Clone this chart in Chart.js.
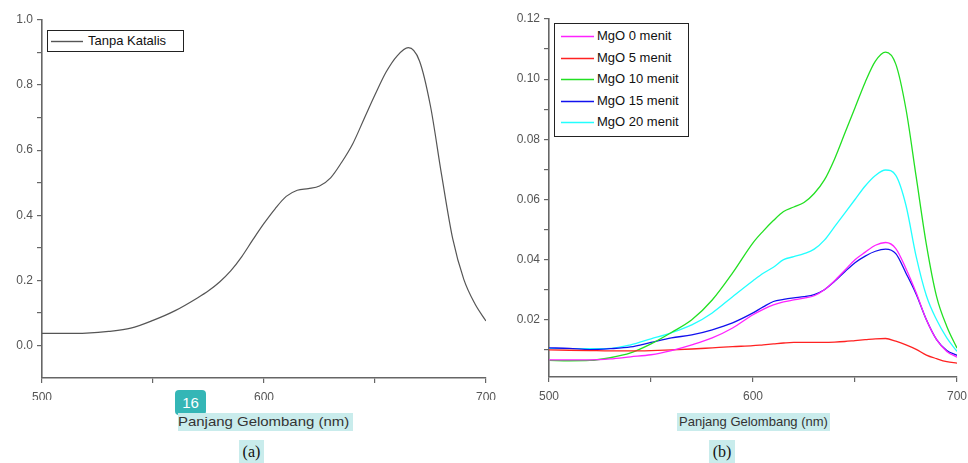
<!DOCTYPE html>
<html>
<head>
<meta charset="utf-8">
<script src="https://cdn.jsdelivr.net/npm/chart.js@4.4.0/dist/chart.umd.min.js"></script>
<style>
  body { margin: 0; background: #fff; }
  #page { position: relative; width: 968px; height: 463px; overflow: hidden; font-family: 'Liberation Sans', Arial, sans-serif; }
  .box { position: absolute; }
  .legend { position: absolute; border: 1px solid #222; background: #fff; }
  .legend .row { position: absolute; left: 0; right: 0; height: 21px; }
  .legend svg { position: absolute; top: 9px; }
  .legend .label { position: absolute; top: 2px; font-size: 13px; color: #111; white-space: nowrap; }
  .xtitle { position: absolute; height: 18px; line-height: 18px; background: #c9ecec; color: #333; font-size: 13px; white-space: nowrap; }
  .caption { position: absolute; height: 23px; line-height: 23px; background: #c9ecec; font-family: 'Liberation Serif', 'DejaVu Serif', serif; font-size: 16px; color: #111; text-align: center; }
  .badge { position: absolute; left: 175px; top: 390px; width: 31px; height: 25px; line-height: 25px; background: #34b6b6; color: #fff; border-radius: 4px; font-size: 15px; text-align: center; }
</style>
</head>
<body>
<div id="page">
  <div class="box" style="left:0;top:0;width:500px;height:400px"><canvas id="chartA"></canvas></div>
  <div class="box" style="left:500px;top:0;width:468px;height:400px"><canvas id="chartB"></canvas></div>
  <div id="legendA" class="legend" style="left:47px;top:30px;width:135px;height:20px"></div>
  <div id="legendB" class="legend" style="left:554px;top:23px;width:133px;height:112px"></div>
  <div class="badge">16</div>
  <div class="xtitle" style="left:178px;top:413px;width:175px"><span style="display:inline-block;transform:scaleX(1.15);transform-origin:left">Panjang Gelombang (nm)</span></div>
  <div class="xtitle" style="left:677px;top:413px;width:153px;text-align:center">Panjang Gelombang (nm)</div>
  <div class="caption" style="left:239px;top:440px;width:25px">(a)</div>
  <div class="caption" style="left:709px;top:440px;width:26px">(b)</div>
</div>
<script>
// Panel (a): without catalyst
const wavelengthA = [500, 510, 520, 530, 540, 550, 560, 570, 575, 580, 585, 590, 595, 600, 605, 610, 615, 620, 625, 630, 635, 640, 645, 650, 655, 660, 665, 670, 675, 680, 685, 690, 695, 700];
const absTanpa = [0.037, 0.037, 0.038, 0.043, 0.053, 0.077, 0.107, 0.146, 0.168, 0.195, 0.229, 0.273, 0.325, 0.375, 0.42, 0.458, 0.477, 0.482, 0.49, 0.515, 0.563, 0.62, 0.695, 0.77, 0.84, 0.89, 0.915, 0.875, 0.735, 0.524, 0.328, 0.203, 0.128, 0.075];

// Panel (b): MgO catalyst over time
const wavelengthB = [500, 510, 520, 530, 540, 550, 560, 570, 580, 590, 600, 605, 610, 615, 620, 625, 630, 635, 640, 645, 650, 655, 660, 665, 670, 675, 680, 685, 690, 695, 700];
const mgo0 = [0.0067, 0.0067, 0.0067, 0.007, 0.0077, 0.0084, 0.0098, 0.0117, 0.014, 0.0173, 0.0217, 0.0235, 0.025, 0.026, 0.0266, 0.0272, 0.028, 0.030, 0.033, 0.0365, 0.040, 0.0425, 0.0448, 0.0457, 0.0437, 0.037, 0.029, 0.020, 0.0134, 0.0095, 0.0076];
const mgo5 = [0.010, 0.0099, 0.0098, 0.0097, 0.0097, 0.0098, 0.010, 0.0103, 0.0107, 0.0111, 0.0114, 0.0117, 0.012, 0.0123, 0.0125, 0.0125, 0.0125, 0.0125, 0.0126, 0.0128, 0.0131, 0.0134, 0.0137, 0.0138, 0.0129, 0.0117, 0.0102, 0.0083, 0.0071, 0.0061, 0.0056];
const mgo10 = [0.0065, 0.0064, 0.0065, 0.0074, 0.009, 0.012, 0.0158, 0.020, 0.0266, 0.0356, 0.0456, 0.0495, 0.053, 0.056, 0.0575, 0.059, 0.062, 0.0665, 0.0735, 0.082, 0.0905, 0.099, 0.106, 0.109, 0.105, 0.090, 0.0675, 0.045, 0.0277, 0.0178, 0.0106];
const mgo15 = [0.0107, 0.0105, 0.0101, 0.0104, 0.011, 0.0125, 0.014, 0.015, 0.0167, 0.019, 0.0223, 0.0243, 0.0261, 0.0268, 0.0273, 0.0277, 0.0284, 0.030, 0.0328, 0.036, 0.039, 0.0412, 0.0428, 0.0435, 0.042, 0.0355, 0.0285, 0.020, 0.0134, 0.0098, 0.0082];
const mgo20 = [0.0105, 0.0104, 0.0104, 0.0105, 0.0117, 0.0137, 0.0157, 0.0183, 0.0223, 0.0277, 0.033, 0.0355, 0.0375, 0.040, 0.041, 0.042, 0.0435, 0.0465, 0.051, 0.0555, 0.060, 0.0645, 0.068, 0.0698, 0.068, 0.058, 0.041, 0.028, 0.020, 0.014, 0.0095];

const seriesNamesB = ['MgO 0 menit', 'MgO 5 menit', 'MgO 10 menit', 'MgO 15 menit', 'MgO 20 menit'];
const seriesColorsB = ['#ff22ff', '#ff2222', '#22e022', '#1111ee', '#22ffff'];

// Tick positions and labels
const xTicks = [500, 550, 600, 650, 700];
const xLabels = ['500', '', '600', '', '700'];
const yTicksA = [0.0, 0.1, 0.2, 0.3, 0.4, 0.5, 0.6, 0.7, 0.8, 0.9, 1.0];
const yLabelsA = ['0.0', '', '0.2', '', '0.4', '', '0.6', '', '0.8', '', '1.0'];
const yTicksB = [0.01, 0.02, 0.03, 0.04, 0.05, 0.06, 0.07, 0.08, 0.09, 0.10, 0.11, 0.12];
const yLabelsB = ['', '0.02', '', '0.04', '', '0.06', '', '0.08', '', '0.10', '', '0.12'];

const AXIS_COLOR = '#666';
const TICK_FONT = { family: "'Liberation Sans', Arial, sans-serif", size: 12 };

function toPoints(xs, ys) {
    return xs.map((x, i) => ({ x: x, y: ys[i] }));
}

function axis(cfg) {
    return {
        type: 'linear',
        min: cfg.min,
        max: cfg.max,
        afterBuildTicks: (scale) => { scale.ticks = cfg.ticks.map(v => ({ value: v })); },
        afterFit: (scale) => {
            if (cfg.width) scale.width = cfg.width;
            if (cfg.height) scale.height = cfg.height;
            // keep label overflow from shifting the plot area
            scale.paddingLeft = scale.paddingRight = scale.paddingTop = scale.paddingBottom = 0;
        },
        border: { color: AXIS_COLOR, width: 1.6 },
        grid: { drawOnChartArea: false, color: AXIS_COLOR, tickLength: 5, lineWidth: 1.2 },
        ticks: {
            autoSkip: false,
            maxRotation: 0,
            padding: cfg.padding,
            color: '#555',
            font: TICK_FONT,
            callback: (value, index) => cfg.labels[index]
        }
    };
}

function baseOptions(xCfg, yCfg, padding) {
    return {
        responsive: true,
        maintainAspectRatio: false,
        animation: false,
        layout: { padding: padding },
        plugins: { legend: { display: false }, tooltip: { enabled: false } },
        elements: { point: { radius: 0 } },
        scales: { x: axis(xCfg), y: axis(yCfg) }
    };
}

// Chart (a)
new Chart(document.getElementById('chartA'), {
    type: 'line',
    data: {
        datasets: [{
            label: 'Tanpa Katalis',
            data: toPoints(wavelengthA, absTanpa),
            borderColor: '#555',
            borderWidth: 1.2,
            cubicInterpolationMode: 'monotone',
            fill: false
        }]
    },
    options: baseOptions(
        { min: 500, max: 700, ticks: xTicks, labels: xLabels, height: 22, padding: 7 },
        { min: -0.1, max: 1.0, ticks: yTicksA, labels: yLabelsA, width: 42, padding: 4 },
        { left: 0, right: 14, top: 20, bottom: 0 }
    )
});

// Chart (b)
const datasetsB = [mgo0, mgo5, mgo10, mgo15, mgo20].map((vals, i) => ({
    label: seriesNamesB[i],
    data: toPoints(wavelengthB, vals),
    borderColor: seriesColorsB[i],
    borderWidth: 1.3,
    cubicInterpolationMode: 'monotone',
    fill: false
}));

new Chart(document.getElementById('chartB'), {
    type: 'line',
    data: { datasets: datasetsB },
    options: baseOptions(
        { min: 500, max: 700, ticks: xTicks, labels: xLabels, height: 23, padding: 7 },
        { min: 0.001, max: 0.12, ticks: yTicksB, labels: yLabelsB, width: 49, padding: 4 },
        { left: 0, right: 11, top: 19, bottom: 0 }
    )
});

// Legends
function buildLegend(el, names, colors, sw, textLeft, topOffset) {
    names.forEach((name, i) => {
        const row = document.createElement('div');
        row.className = 'row';
        row.style.top = Math.round(topOffset + i * 21.5) + 'px';
        row.innerHTML = `<svg style="left:${sw[0]}px" width="${sw[1]}" height="3"><line x1="0" y1="1.5" x2="${sw[1]}" y2="1.5" stroke="${colors[i]}" stroke-width="1.4"/></svg>` +
                        `<span class="label" style="left:${textLeft}px">${name}</span>`;
        el.appendChild(row);
    });
}

buildLegend(document.getElementById('legendA'), ['Tanpa Katalis'], ['#555'], [3, 32], 40, 0);
buildLegend(document.getElementById('legendB'), seriesNamesB, seriesColorsB, [6, 33], 42, 2);
</script>
</body>
</html>
